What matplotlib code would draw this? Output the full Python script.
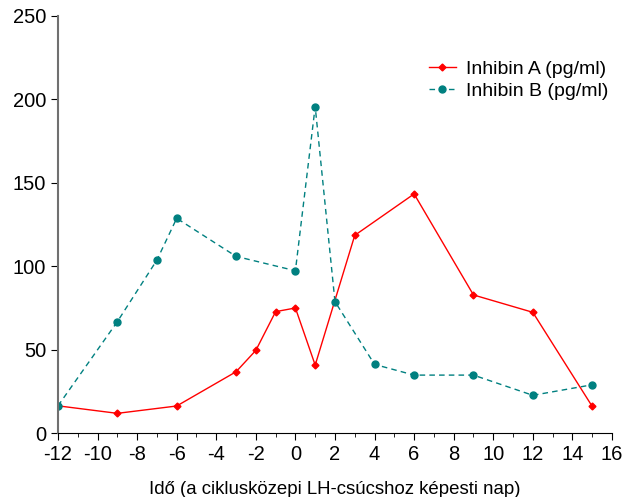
import matplotlib.pyplot as plt
import numpy as np
from matplotlib.ticker import MultipleLocator

plt.rcParams['font.family'] = ['Liberation Sans', 'DejaVu Sans']
plt.rcParams['axes.unicode_minus'] = False

# Inhibin A
xa = [-12, -9, -6, -3, -2, -1, 0, 1, 3, 6, 9, 12, 15]
ya = [16.5, 12, 16.4, 36.9, 49.7, 72.9, 75.1, 40.9, 118.6, 143.4, 82.9, 72.5, 16.2]
# Inhibin B
xb = [-12, -9, -7, -6, -3, 0, 1, 2, 4, 6, 9, 12, 15]
yb = [16.5, 66.9, 103.8, 128.8, 106, 97.4, 195.7, 78.9, 41.3, 34.9, 34.9, 22.8, 29.1]

fig = plt.figure(figsize=(6.27, 4.97), dpi=100)
ax = fig.add_axes([0.0925, 0.128, 0.8835, 0.84])

ax.plot(xa, ya, color='#ff0000', lw=1, marker='D', ms=3.5, label='Inhibin A (pg/ml)')
ax.plot(xb, yb, color='#008080', lw=1, ls=(0, (4, 3)), marker='o', ms=5,
        label='Inhibin B (pg/ml)')

ax.set_xlim(-12, 16)
ax.set_ylim(0, 250)
ax.set_xticks(np.arange(-12, 17, 2))
ax.xaxis.set_minor_locator(MultipleLocator(1))
ax.set_yticks(np.arange(0, 251, 50))
ax.tick_params(axis='both', which='major', direction='out', length=5, labelsize=14.5)
ax.tick_params(axis='x', which='minor', direction='out', length=3)
for s in ['top', 'right']:
    ax.spines[s].set_visible(False)
ax.spines['left'].set_color('#707070')
ax.spines['left'].set_linewidth(1.5)
ax.set_xlabel('Idő (a ciklusközepi LH-csúcshoz képesti nap)', fontsize=13.4, labelpad=12)

ax.legend(loc='upper left', bbox_to_anchor=(0.655, 0.912), frameon=False, fontsize=14,
          handlelength=1.4, handletextpad=0.5, labelspacing=0.22, borderaxespad=0)

fig.savefig('out.png', dpi=100)
